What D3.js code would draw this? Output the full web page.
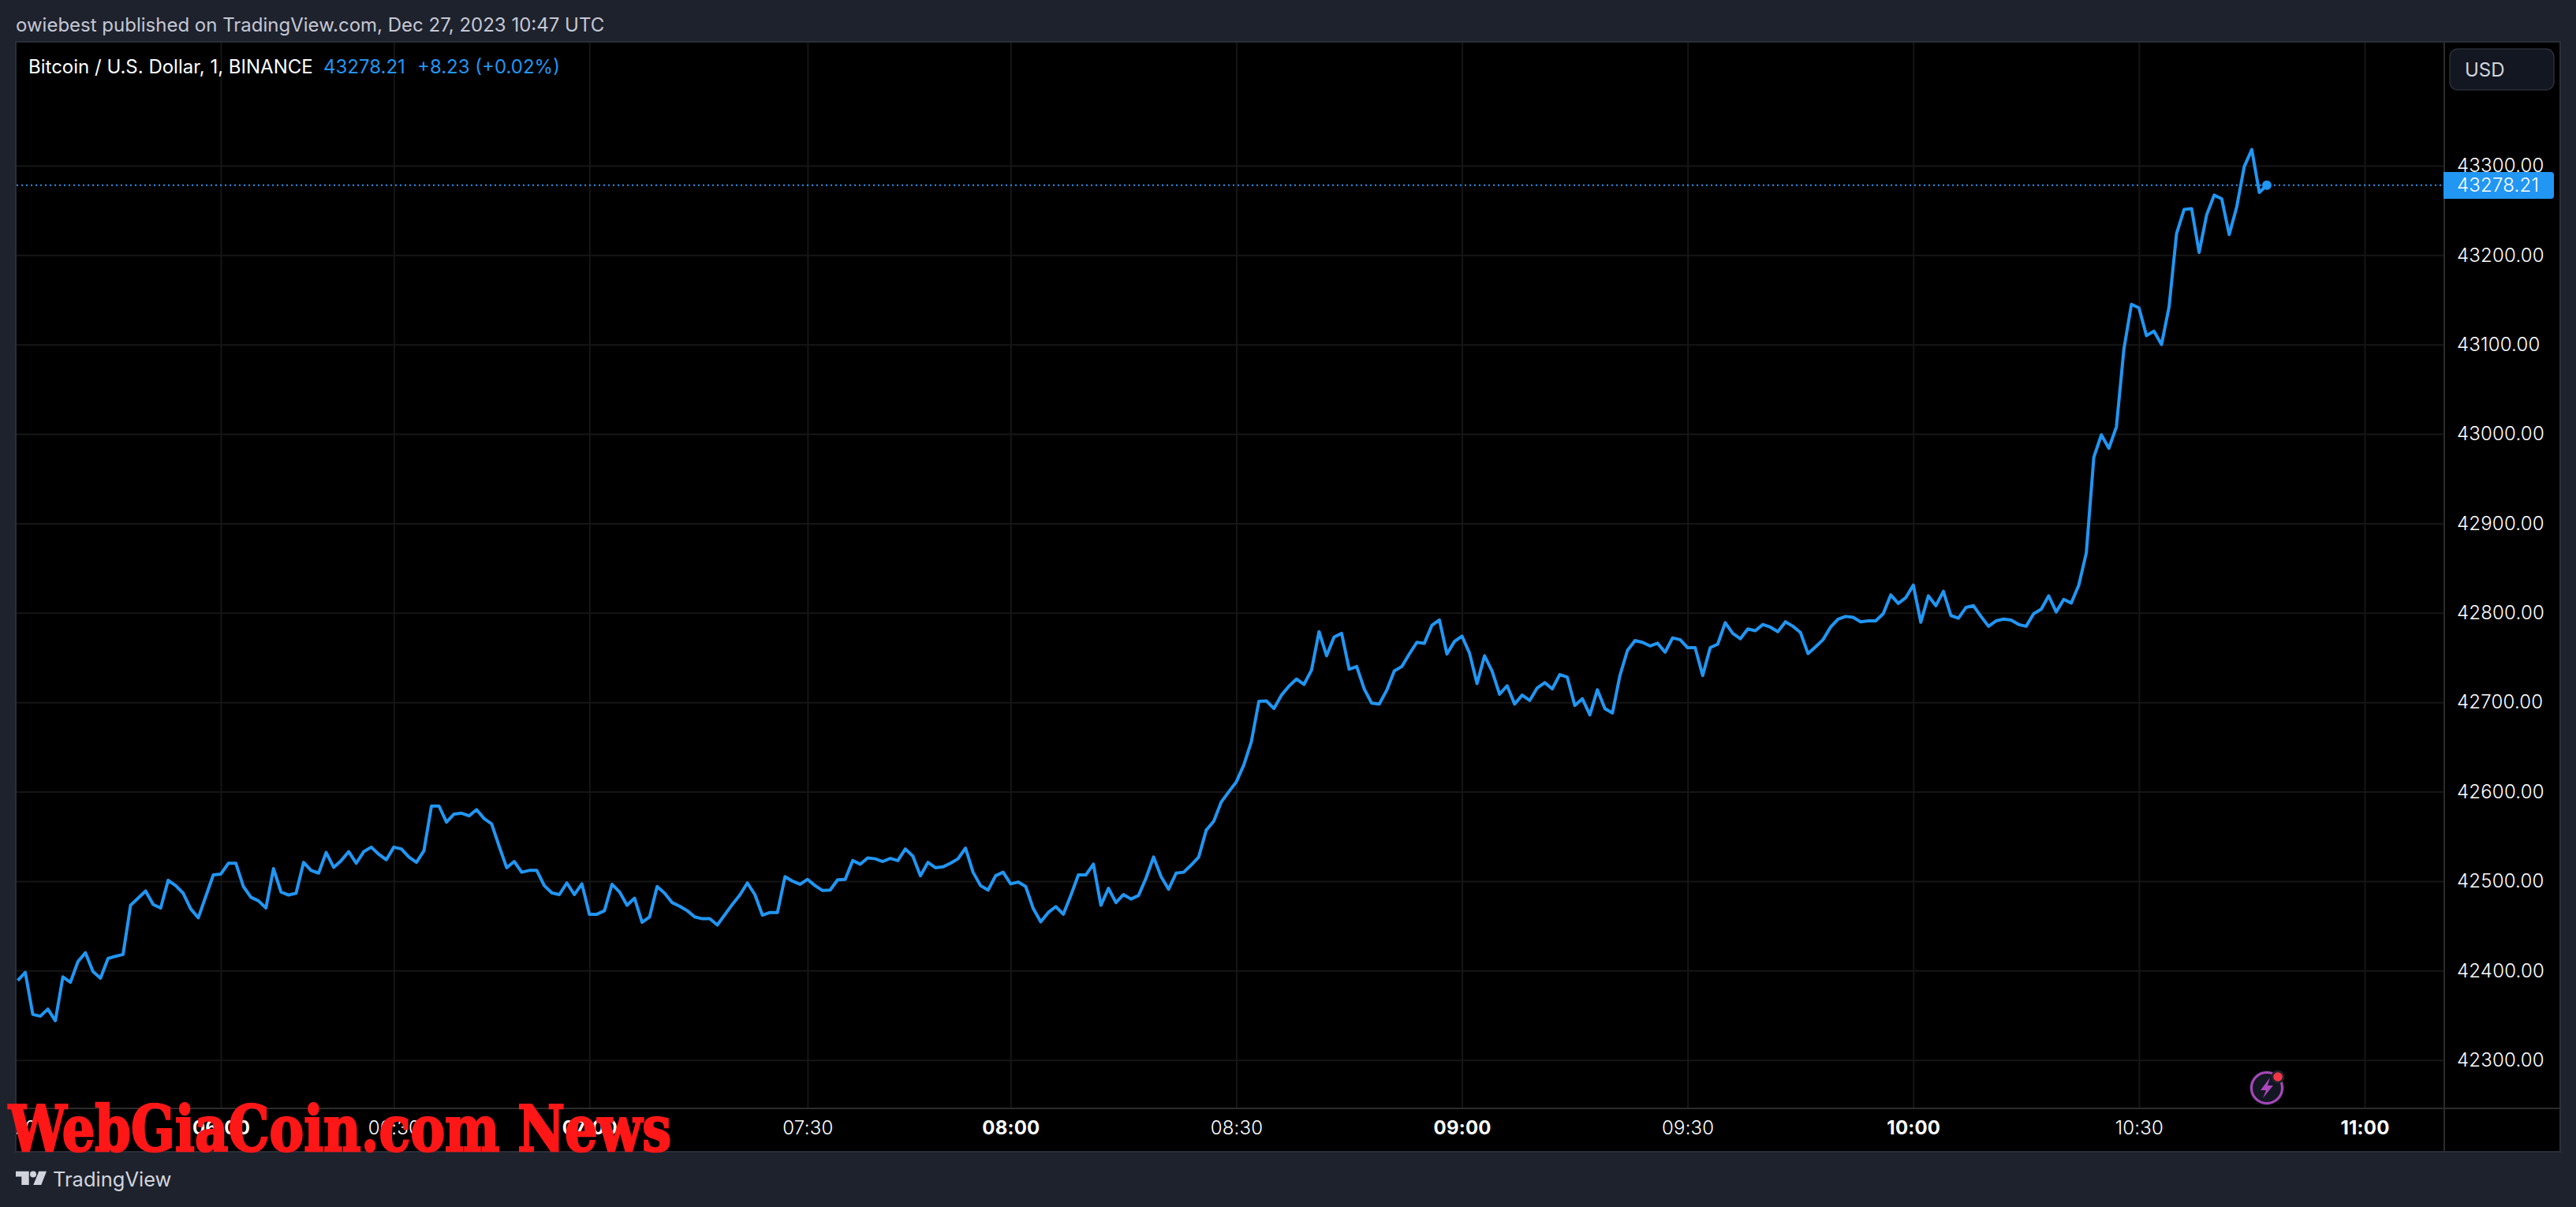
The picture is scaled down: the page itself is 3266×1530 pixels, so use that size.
<!DOCTYPE html>
<html>
<head>
<meta charset="utf-8">
<title>BTCUSD</title>
<script src="https://cdn.jsdelivr.net/npm/d3@7.9.0/dist/d3.min.js"></script>
<style>
  html, body { margin: 0; padding: 0; background: #1e222d; overflow: hidden; }
  svg { display: block; font-family: Inter, "Noto Sans", sans-serif; }
  .grid line { stroke: #161616; stroke-width: 2; }
  .grid path { display: none; }
  .axis path, .axis line { display: none; }
  .axis text { fill: #fff; font-size: 24px; font-family: Inter, sans-serif; font-weight: 300; letter-spacing: 0.2px; }
</style>
</head>
<body>
<svg id="chart" width="3266" height="1530"></svg>
<script>
// 1 minute closes, one per bar (bars are evenly spaced, some minutes are missing)
const closes = [
  42389,42398,42351,42349,42357,42344,42393,42387,42410,42420,
  42399,42391.5,42413.5,42416,42418,42473,42481,42489,42474,42470,
  42501,42495,42486.5,42469,42459,42483,42507,42508,42520,42520,
  42494,42482,42478,42470,42514,42488,42484.5,42486.5,42521,42512,
  42509,42532,42515.5,42523,42533,42520,42533,42538,42530,42524,
  42538,42536,42527,42521,42534,42584,42584,42566,42575,42576,
  42573,42580,42570,42564,42539,42515,42522,42510,42512,42512,
  42495,42487,42485,42498,42485,42497,42463,42463,42467,42496.5,
  42488,42473,42481,42454,42460,42494,42486.5,42476,42472,42467,
  42460,42458,42458,42451,42462.5,42474,42484.5,42498,42485,42462,
  42465,42465,42505,42500,42496.5,42502,42495,42489.5,42490,42501.5,
  42502,42523,42519,42526,42525,42522,42525.5,42523,42536,42528,
  42506,42521,42515,42516,42520,42525,42537,42510,42495,42490,
  42506,42510,42497,42499,42494,42469.5,42454.5,42465,42471.5,42463,
  42484,42507,42507,42519,42473,42492,42476,42485,42480,42484,
  42503.5,42527,42505,42491,42509,42510,42518,42527,42557,42567,
  42588.5,42600,42611,42630,42656,42701,42701.5,42693,42708,42718,
  42726,42720,42736,42779,42752,42773,42777,42737,42740,42715,
  42699,42698,42713.5,42735,42740,42754,42767,42766,42786,42792,
  42754,42768,42774,42755,42721,42752,42735,42709,42718.5,42698,
  42708,42702,42716,42722,42715,42731,42728,42696.5,42704,42686,
  42714,42693,42688,42730,42758,42769,42767,42763,42766,42756,
  42772,42770,42761,42761,42730,42761,42765,42789,42777,42771,
  42782,42780,42787,42784,42779,42790,42785,42778,42754.5,42762,
  42770,42784,42793,42796,42795,42790,42791,42791,42799,42820,
  42810.5,42817,42831,42789.5,42819,42808,42824,42797,42794,42806,
  42808,42796,42785,42791,42793,42792,42787,42785,42799,42804,
  42819,42801,42815,42811,42831,42867,42974,42999,42984,43008,
  43095,43145,43141,43110,43115,43100,43142,43224,43251,43252,
  43203,43245,43267,43263,43223,43254,43299,43318,43270,43278.21
];

// bar number of each time label, -1 is just left of the first bar
const timeTickBars = [-1, 27, 50, 76, 105, 132, 162, 192, 222, 252, 282, 312];
const timeTickLabels = ['05:30','06:00','06:30','07:00','07:30','08:00','08:30','09:00','09:30','10:00','10:30','11:00'];
const boldTimeLabels = ['06:00','07:00','08:00','09:00','10:00','11:00'];
const priceTicks = [42300,42400,42500,42600,42700,42800,42900,43000,43100,43200,43300];
const lastPrice = 43278.21;

const pane = { left: 21, top: 54, right: 3099, bottom: 1405 };
const outer = { right: 3246, bottom: 1460 };
const blue = '#2196f3';

const svg = d3.select('#chart');

const xScale = d3.scaleLinear().domain([0, 312]).range([22.5, 2998]);
const yScale = d3.scaleLinear().domain([42300, 43300]).range([1343.7, 210]);

// black chart block
svg.append('rect')
  .attr('x', pane.left - 1).attr('y', pane.top - 1)
  .attr('width', outer.right - pane.left + 1).attr('height', outer.bottom - pane.top + 1)
  .attr('fill', '#000').attr('stroke', '#2a2e39').attr('stroke-width', 2);

const defs = svg.append('defs');
defs.append('clipPath').attr('id', 'pane-clip').append('rect')
  .attr('x', pane.left).attr('y', pane.top)
  .attr('width', pane.right - pane.left).attr('height', pane.bottom - pane.top);
defs.append('clipPath').attr('id', 'time-clip').append('rect')
  .attr('x', pane.left).attr('y', pane.bottom)
  .attr('width', pane.right - pane.left).attr('height', outer.bottom - pane.bottom);

const plot = svg.append('g').attr('clip-path', 'url(#pane-clip)');

// gridlines as axes with no labels
plot.append('g')
  .attr('class', 'grid')
  .attr('transform', `translate(0, ${pane.bottom})`)
  .call(d3.axisBottom(xScale).tickValues(timeTickBars).tickFormat('').tickSize(-(pane.bottom - pane.top)));
plot.append('g')
  .attr('class', 'grid')
  .attr('transform', `translate(${pane.left}, 0)`)
  .call(d3.axisLeft(yScale).tickValues(priceTicks).tickFormat('').tickSize(-(pane.right - pane.left)));

// last price dotted line
plot.append('line')
  .attr('x1', pane.left).attr('x2', pane.right)
  .attr('y1', yScale(lastPrice)).attr('y2', yScale(lastPrice))
  .attr('stroke', blue).attr('stroke-width', 2).attr('stroke-dasharray', '2 4');

const line = d3.line().x((d, i) => xScale(i)).y(d => yScale(d));
plot.append('path')
  .datum(closes)
  .attr('d', line)
  .attr('fill', 'none')
  .attr('stroke', blue)
  .attr('stroke-width', 4)
  .attr('stroke-linejoin', 'round');

plot.append('circle')
  .attr('cx', xScale(closes.length - 1)).attr('cy', yScale(lastPrice))
  .attr('r', 6).attr('fill', blue);

// axis separators
svg.append('line').attr('x1', pane.right).attr('x2', pane.right)
  .attr('y1', pane.top).attr('y2', outer.bottom)
  .attr('stroke', '#2b2b2b').attr('stroke-width', 2);
svg.append('line').attr('x1', pane.left).attr('x2', outer.right)
  .attr('y1', pane.bottom).attr('y2', pane.bottom)
  .attr('stroke', '#2b2b2b').attr('stroke-width', 2);

// price axis
svg.append('g')
  .attr('class', 'axis')
  .attr('transform', `translate(${pane.right}, 0)`)
  .call(d3.axisRight(yScale).tickValues(priceTicks).tickSize(0).tickPadding(16).tickFormat(d3.format('.2f')));

// time axis
const timeAxis = svg.append('g')
  .attr('clip-path', 'url(#time-clip)')
  .append('g')
  .attr('class', 'axis')
  .attr('transform', `translate(0, ${pane.bottom})`)
  .call(d3.axisBottom(xScale).tickValues(timeTickBars).tickSize(0).tickPadding(16)
    .tickFormat((d, i) => timeTickLabels[i]));
timeAxis.selectAll('text')
  .style('font-weight', (d, i) => boldTimeLabels.includes(timeTickLabels[i]) ? 700 : 300);

// last price tag
svg.append('path')
  .attr('d', 'M3098 218H3234a4 4 0 0 1 4 4V248a4 4 0 0 1 -4 4H3098Z')
  .attr('fill', blue);
svg.append('text')
  .attr('x', 3115).attr('y', yScale(lastPrice)).attr('dy', '0.35em')
  .attr('fill', '#fff').attr('font-size', 24).attr('font-weight', 300).attr('letter-spacing', 0.2)
  .text(d3.format('.2f')(lastPrice));

// currency button
svg.append('rect')
  .attr('x', 3106).attr('y', 62).attr('width', 132).attr('height', 52).attr('rx', 10)
  .attr('fill', '#131722').attr('stroke', '#2a2e39').attr('stroke-width', 1.5);
svg.append('text')
  .attr('x', 3125).attr('y', 97).attr('fill', '#d1d4dc').attr('font-size', 24)
  .text('USD');

// header
svg.append('text')
  .attr('x', 20).attr('y', 40).attr('fill', '#c4c7d4').attr('font-size', 24)
  .text('owiebest published on TradingView.com, Dec 27, 2023 10:47 UTC');
svg.append('text')
  .attr('x', 36).attr('y', 93).attr('fill', '#fff').attr('font-size', 24)
  .text('Bitcoin / U.S. Dollar, 1, BINANCE');
svg.append('text')
  .attr('x', 410).attr('y', 93).attr('fill', blue).attr('font-size', 24)
  .text('43278.21');
svg.append('text')
  .attr('x', 529).attr('y', 93).attr('fill', blue).attr('font-size', 24)
  .text('+8.23 (+0.02%)');

// footer logo
const logo = svg.append('g').attr('fill', '#d1d4dc');
logo.append('path').attr('d', 'M20 1484.7H36.7V1502H27.3V1491.5H20Z');
logo.append('circle').attr('cx', 42).attr('cy', 1488.5).attr('r', 4);
logo.append('path').attr('d', 'M49.3 1484.7H59L52.3 1502H42.3Z');
svg.append('text')
  .attr('x', 67).attr('y', 1504).attr('fill', '#d1d4dc').attr('font-size', 25.5)
  .text('TradingView');

// lightning badge
const badge = svg.append('g').attr('transform', 'translate(2874, 1379)');
badge.append('circle').attr('r', 22).attr('fill', '#1e222d');
badge.append('circle').attr('r', 19.5).attr('fill', '#131722').attr('stroke', '#ab47bc').attr('stroke-width', 3);
badge.append('path').attr('d', 'M4 -13L-8 3H-1L-5 13L8 -3H1Z').attr('fill', '#ab47bc');
badge.append('circle').attr('cx', 14).attr('cy', -14).attr('r', 8.5).attr('fill', '#1e222d');
badge.append('circle').attr('cx', 14).attr('cy', -14).attr('r', 5.8).attr('fill', '#f23645');

// red watermark stays on top
svg.append('text')
  .attr('x', 11).attr('y', 1459)
  .attr('fill', '#ff1717')
  .attr('stroke', '#ff1717')
  .attr('stroke-width', 2.5)
  .attr('font-family', '"DejaVu Serif Condensed", "DejaVu Serif", serif')
  .attr('font-weight', 700)
  .attr('font-size', 81)
  .attr('textLength', 840)
  .attr('lengthAdjust', 'spacingAndGlyphs')
  .text('WebGiaCoin.com News');
</script>
</body>
</html>
